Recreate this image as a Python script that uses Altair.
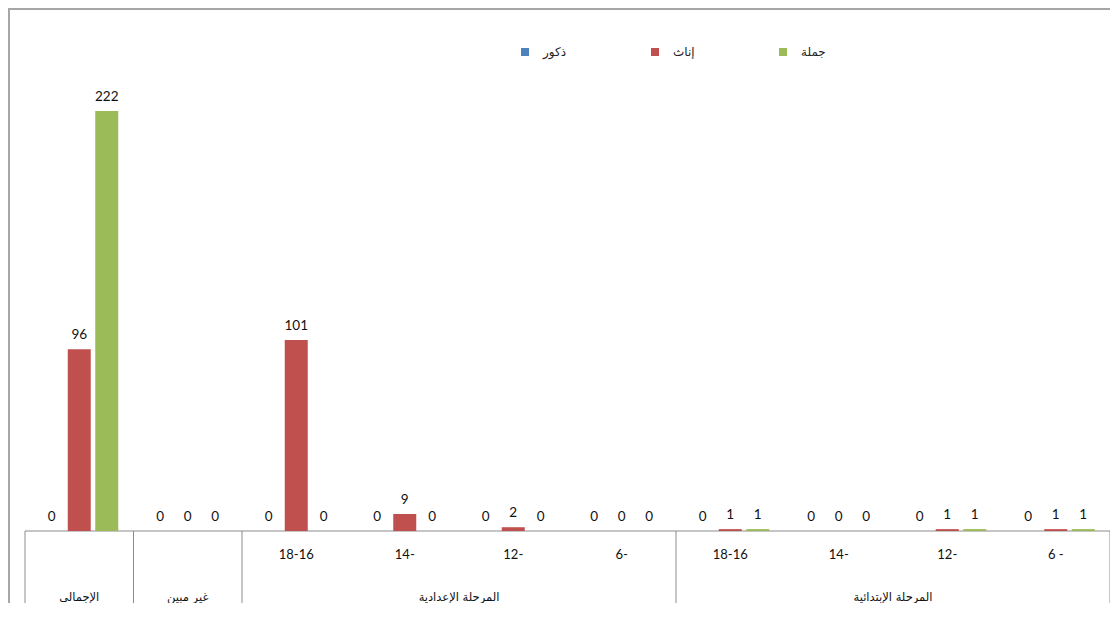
import altair as alt
import pandas as pd

# ---- data ----
categories = ["الإجمالي", "غير مبين", "18-16", "14-", "12-", "6-", "18-16", "14-", "12-", "6 -"]
parents = ["الإجمالي", "غير مبين",
           "المرحلة الإعدادية", "المرحلة الإعدادية", "المرحلة الإعدادية", "المرحلة الإعدادية",
           "المرحلة الإبتدائية", "المرحلة الإبتدائية", "المرحلة الإبتدائية", "المرحلة الإبتدائية"]
has_sub = [False, False, True, True, True, True, True, True, True, True]
series = ["ذكور", "إناث", "جملة"]
males = [0, 0, 0, 0, 0, 0, 0, 0, 0, 0]
females = [96, 0, 101, 9, 2, 0, 1, 0, 1, 1]
totals = [222, 0, 0, 0, 0, 0, 1, 0, 1, 1]
colors = ["#4F81BD", "#C0504D", "#9BBB59"]

# ---- tables built from the lists ----
rows = []
for i, c in enumerate(categories):
    for s, vals in zip(series, [males, females, totals]):
        rows.append({"pos": i, "cat": c, "series": s, "value": vals[i]})
df = pd.DataFrame(rows)

sub_df = pd.DataFrame([{"pos": i, "cat": c} for i, c in enumerate(categories) if has_sub[i]])

groups = []
for i, p in enumerate(parents):
    if groups and groups[-1]["label"] == p:
        groups[-1]["end"] = i + 1
    else:
        groups.append({"label": p, "start": i, "end": i + 1})
grp_df = pd.DataFrame(groups)
sep_df = pd.DataFrame({"b": [g["start"] for g in groups] + [len(categories)]})

W, H = 1085, 473
N = len(categories)
pos_domain = list(range(N))

x_band = alt.X("pos:O", scale=alt.Scale(domain=pos_domain, paddingInner=0, paddingOuter=0), axis=None)
x_off_bar = alt.XOffset("series:N", scale=alt.Scale(domain=series, paddingInner=0.1636, paddingOuter=0.554))
x_off_txt = alt.XOffset("series:N", scale=alt.Scale(type="point", domain=series, padding=0.973))
y_val = alt.Y("value:Q", scale=alt.Scale(domain=[0, 250]), axis=None)

legend = alt.Legend(
    title=None, orient="none", legendX=494, legendY=-12, direction="horizontal",
    symbolType="square", symbolSize=64, symbolStrokeWidth=0,
    labelFont="DejaVu Sans", labelFontSize=12, labelColor="#222222",
    labelOffset=12, columnPadding=82, padding=0,
)

bars = alt.Chart(df).mark_bar().encode(
    x=x_band, xOffset=x_off_bar, y=y_val,
    color=alt.Color("series:N", scale=alt.Scale(domain=series, range=colors), legend=legend),
)

value_labels = alt.Chart(df).mark_text(
    baseline="bottom", dy=-7, font="Lato", fontSize=13.5, color="#111111"
).encode(x=x_band, xOffset=x_off_txt, y=y_val, text=alt.Text("value:Q"))

sub_labels = alt.Chart(sub_df).mark_text(
    baseline="middle", font="Lato", fontSize=13, color="#111111"
).encode(x=alt.X("pos:O", scale=alt.Scale(domain=pos_domain, paddingInner=0, paddingOuter=0), axis=None),
         y=alt.value(H + 24), text="cat:N")

x_q = alt.Scale(domain=[0, N])

group_labels = alt.Chart(grp_df).transform_calculate(
    mid="(datum.start + datum.end) / 2"
).mark_text(baseline="middle", font="DejaVu Sans", fontSize=11.5, color="#111111").encode(
    x=alt.X("mid:Q", scale=x_q, axis=None), y=alt.value(H + 67), text="label:N"
)

separators = alt.Chart(sep_df).mark_rule(color="#8c8c8c", strokeWidth=1).encode(
    x=alt.X("b:Q", scale=x_q, axis=None), y=alt.value(H), y2=alt.value(H + 80)
)

one = pd.DataFrame({"k": [0]})
axis_line = alt.Chart(one).mark_rule(color="#8c8c8c", strokeWidth=1).encode(
    x=alt.value(0), x2=alt.value(W), y=alt.value(H)
)
frame_left = alt.Chart(one).mark_rule(color="#a6a6a6", strokeWidth=2).encode(
    x=alt.value(-16), y=alt.value(-50), y2=alt.value(H + 80)
)
frame_top = alt.Chart(one).mark_rule(color="#a6a6a6", strokeWidth=2).encode(
    x=alt.value(-17), x2=alt.value(W + 20), y=alt.value(-49)
)

chart = alt.layer(
    frame_left, frame_top, axis_line, separators, bars, value_labels, sub_labels, group_labels
).resolve_scale(x="independent", xOffset="independent").properties(
    width=W, height=H,
    autosize=alt.AutoSizeParams(type="none"),
    padding={"left": 17, "top": 50, "right": 0, "bottom": 72},
    background="white",
).configure_view(stroke=None)

chart.save("out.html", embed_options={"renderer": "svg", "actions": False})
